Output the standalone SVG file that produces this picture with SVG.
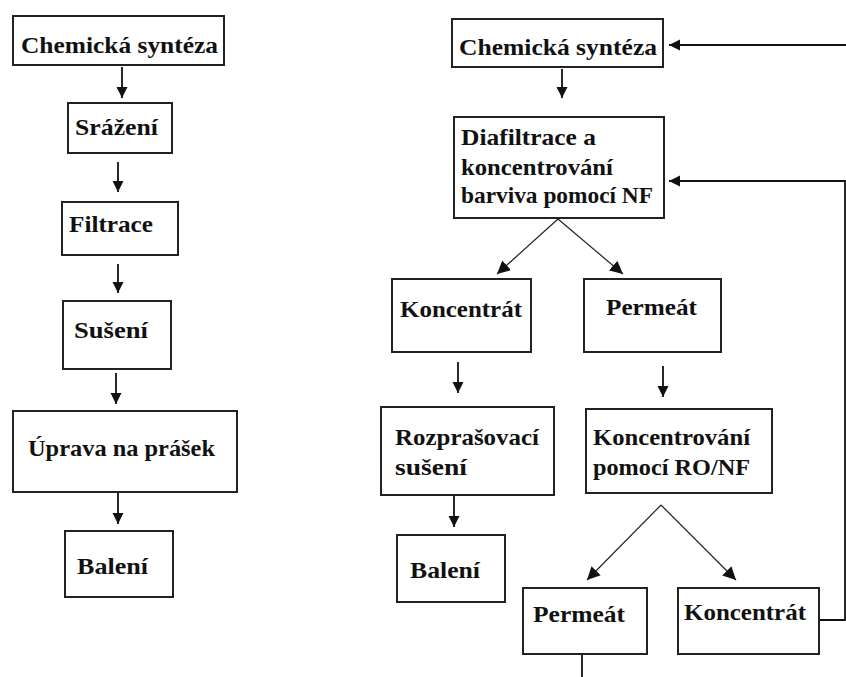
<svg xmlns="http://www.w3.org/2000/svg" width="846" height="677" viewBox="0 0 846 677">
<style>
.box{fill:#fff;stroke:#222;stroke-width:2}
.t{font-family:"Liberation Serif","Times New Roman",serif;font-weight:bold;font-size:23px;fill:#111}
.c{fill:none;stroke:#111;stroke-width:1.8}
.d{fill:none;stroke:#222;stroke-width:1.2}
</style>
<defs>
<marker id="ah" markerUnits="userSpaceOnUse" markerWidth="12" markerHeight="12" viewBox="0 0 12 12" refX="11" refY="6" orient="auto">
<path d="M0,0.5 L11,6 L0,11.5 Z" fill="#111"/>
</marker>
<marker id="ahd" markerUnits="userSpaceOnUse" markerWidth="14" markerHeight="14" viewBox="0 0 14 14" refX="13" refY="7" orient="auto">
<path d="M0,0.5 L13,7 L0,13.5 Z" fill="#111"/>
</marker>
</defs>
<rect width="846" height="677" fill="#fff"/>

<g id="connectors">
<line class="c" x1="122" y1="67" x2="122" y2="98" marker-end="url(#ah)"/>
<line class="c" x1="118" y1="162" x2="118" y2="192" marker-end="url(#ah)"/>
<line class="c" x1="118" y1="264" x2="118" y2="293" marker-end="url(#ah)"/>
<line class="c" x1="116" y1="373" x2="116" y2="404" marker-end="url(#ah)"/>
<line class="c" x1="118" y1="493" x2="118" y2="524" marker-end="url(#ah)"/>
<line class="c" x1="562" y1="69" x2="562" y2="98" marker-end="url(#ah)"/>
<line class="c" x1="458" y1="362" x2="458" y2="393" marker-end="url(#ah)"/>
<line class="c" x1="663" y1="366" x2="663" y2="397" marker-end="url(#ah)"/>
<line class="c" x1="454" y1="495" x2="454" y2="527" marker-end="url(#ah)"/>
<line class="d" x1="558" y1="219" x2="497" y2="274" marker-end="url(#ahd)"/>
<line class="d" x1="558" y1="219" x2="623" y2="274" marker-end="url(#ahd)"/>
<line class="d" x1="661" y1="505" x2="587" y2="580" marker-end="url(#ahd)"/>
<line class="d" x1="661" y1="505" x2="736" y2="580" marker-end="url(#ahd)"/>
<line class="c" x1="846" y1="45" x2="669" y2="45" marker-end="url(#ah)"/>
<polyline class="c" points="820,620 845,620 845,181 669,181" marker-end="url(#ah)"/>
<line class="c" x1="582" y1="654" x2="582" y2="677"/>
</g>

<g id="l_chem"><rect class="box" x="13" y="16" width="211" height="49"/><text class="t" x="21" y="53" textLength="197" lengthAdjust="spacingAndGlyphs">Chemická syntéza</text></g>
<g id="l_srazeni"><rect class="box" x="68" y="103" width="104" height="50"/><text class="t" x="75" y="135" textLength="83" lengthAdjust="spacingAndGlyphs">Srážení</text></g>
<g id="l_filtrace"><rect class="box" x="62" y="202" width="116" height="53"/><text class="t" x="69" y="232" textLength="84" lengthAdjust="spacingAndGlyphs">Filtrace</text></g>
<g id="l_suseni"><rect class="box" x="63" y="301" width="108" height="68"/><text class="t" x="74" y="338" textLength="74" lengthAdjust="spacingAndGlyphs">Sušení</text></g>
<g id="l_uprava"><rect class="box" x="13" y="411" width="224" height="81"/><text class="t" x="28" y="456" textLength="187" lengthAdjust="spacingAndGlyphs">Úprava na prášek</text></g>
<g id="l_baleni"><rect class="box" x="65" y="531" width="108" height="66"/><text class="t" x="77" y="574" textLength="71" lengthAdjust="spacingAndGlyphs">Balení</text></g>

<g id="r_chem"><rect class="box" x="452" y="19" width="211" height="48"/><text class="t" x="459" y="55" textLength="198" lengthAdjust="spacingAndGlyphs">Chemická syntéza</text></g>
<g id="r_diafiltrace"><rect class="box" x="454" y="117" width="210" height="101"/>
<text class="t" x="461" y="145" textLength="135" lengthAdjust="spacingAndGlyphs">Diafiltrace a</text>
<text class="t" x="461" y="175" textLength="152" lengthAdjust="spacingAndGlyphs">koncentrování</text>
<text class="t" x="461" y="203" textLength="192" lengthAdjust="spacingAndGlyphs">barviva pomocí NF</text></g>
<g id="r_koncentrat1"><rect class="box" x="392" y="279" width="139" height="73"/><text class="t" x="400" y="317" textLength="122" lengthAdjust="spacingAndGlyphs">Koncentrát</text></g>
<g id="r_permeat1"><rect class="box" x="584" y="279" width="137" height="73"/><text class="t" x="606" y="315" textLength="91" lengthAdjust="spacingAndGlyphs">Permeát</text></g>
<g id="r_rozprasovaci"><rect class="box" x="381" y="407" width="173" height="88"/>
<text class="t" x="395" y="445" textLength="144" lengthAdjust="spacingAndGlyphs">Rozprašovací</text>
<text class="t" x="395" y="475" textLength="72" lengthAdjust="spacingAndGlyphs">sušení</text></g>
<g id="r_ronf"><rect class="box" x="586" y="409" width="186" height="84"/>
<text class="t" x="593" y="445" textLength="157" lengthAdjust="spacingAndGlyphs">Koncentrování</text>
<text class="t" x="593" y="475" textLength="157" lengthAdjust="spacingAndGlyphs">pomocí RO/NF</text></g>
<g id="r_baleni"><rect class="box" x="397" y="535" width="108" height="67"/><text class="t" x="410" y="578" textLength="70" lengthAdjust="spacingAndGlyphs">Balení</text></g>
<g id="r_permeat2"><rect class="box" x="523" y="588" width="124" height="66"/><text class="t" x="533" y="622" textLength="92" lengthAdjust="spacingAndGlyphs">Permeát</text></g>
<g id="r_koncentrat2"><rect class="box" x="678" y="588" width="141" height="66"/><text class="t" x="684" y="620" textLength="122" lengthAdjust="spacingAndGlyphs">Koncentrát</text></g>
</svg>
